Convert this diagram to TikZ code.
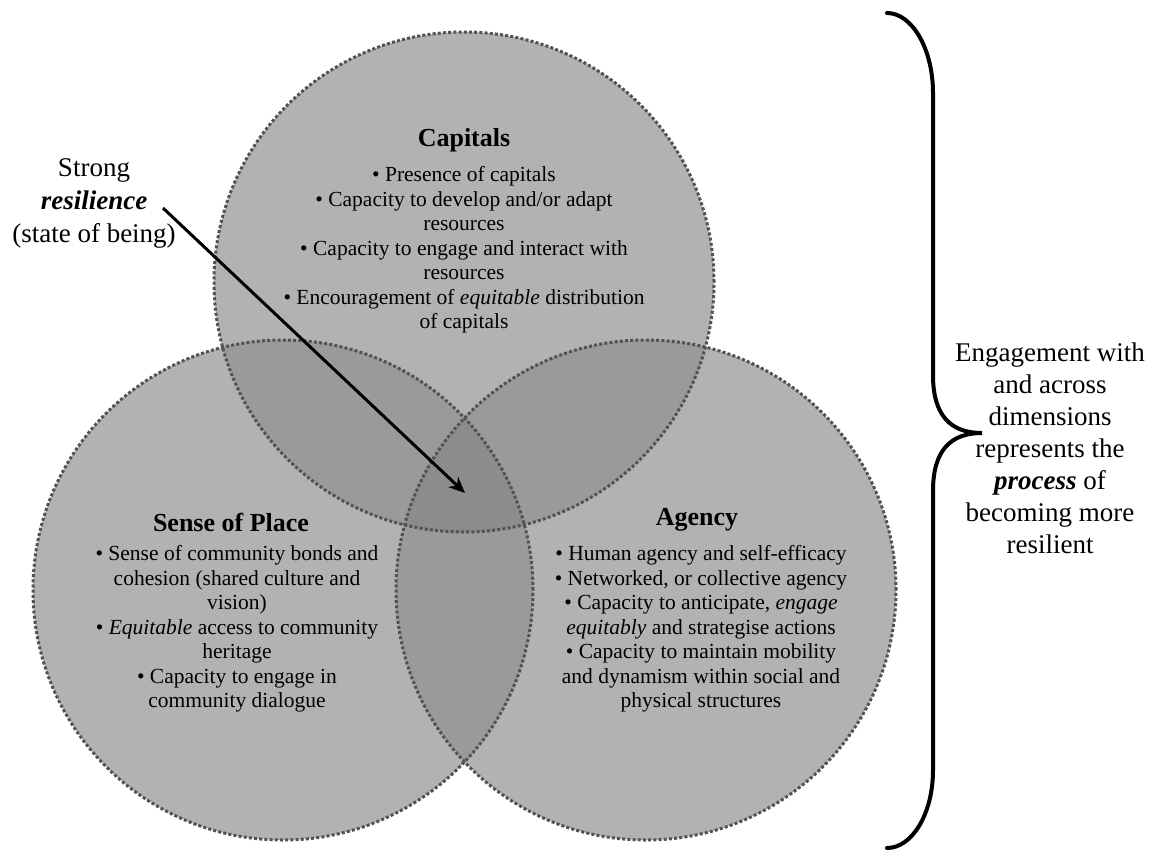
\documentclass[tikz,border=0pt]{standalone}
\usepackage{fontspec}
\setmainfont{Liberation Serif}
\usetikzlibrary{arrows.meta}
\definecolor{onefill}{HTML}{B2B2B2}
\definecolor{twofill}{HTML}{9A9A9A}
\definecolor{threefill}{HTML}{8C8C8C}
\definecolor{rimgray}{HTML}{525252}
\begin{document}
\begin{tikzpicture}[x=1pt,y=-1pt,
  rim/.style={draw=rimgray, line width=3pt, dash pattern=on 3pt off 2.2pt},
  heading/.style={font=\fontsize{26}{30}\selectfont\bfseries, inner sep=0pt},
  bullets/.style={font=\fontsize{21.5}{24.5}\selectfont, align=center, inner sep=0pt},
  sidenote/.style={font=\fontsize{27}{33}\selectfont, align=center, inner sep=0pt},
  pointer/.style={line width=3pt, -{Stealth[length=16pt,width=14pt,inset=5pt]}},
  bracket/.style={line width=4pt, line cap=round}
]
\useasboundingbox (0,0) rectangle (1151,851);
\fill[white] (0,0) rectangle (1151,851);

% centres of the three dimensions
\coordinate (cap) at (464,282);
\coordinate (sop) at (283,590);
\coordinate (agc) at (646,590);

% single-dimension areas
\fill[onefill] (cap) circle (250pt);
\fill[onefill] (sop) circle (250pt);
\fill[onefill] (agc) circle (250pt);

% pairwise overlaps
\begin{scope}
  \clip (cap) circle (250pt);
  \fill[twofill] (sop) circle (250pt);
  \fill[twofill] (agc) circle (250pt);
\end{scope}
\begin{scope}
  \clip (sop) circle (250pt);
  \fill[twofill] (agc) circle (250pt);
\end{scope}

% centre where all three meet
\begin{scope}
  \clip (cap) circle (250pt);
  \clip (sop) circle (250pt);
  \fill[threefill] (agc) circle (250pt);
\end{scope}

% dotted rims
\draw[rim] (cap) circle (250pt);
\draw[rim] (sop) circle (250pt);
\draw[rim] (agc) circle (250pt);

% Capitals
\node[heading] (capT) at (464,140) {Capitals};
\node[bullets] (capB) at (464,250) {• Presence of capitals\\
• Capacity to develop and/or adapt\\
resources\\
• Capacity to engage and interact with\\
resources\\
• Encouragement of \textit{equitable} distribution\\
of capitals};

% Sense of Place
\node[heading] (sopT) at (231,522) {Sense of Place};
\node[bullets] (sopB) at (237,629) {• Sense of community bonds and\\
cohesion (shared culture and\\
vision)\\
• \textit{Equitable} access to community\\
heritage\\
• Capacity to engage in\\
community dialogue};

% Agency
\node[heading] (agcT) at (697,520) {Agency};
\node[bullets] (agcB) at (701,629) {• Human agency and self-efficacy\\
• Networked, or collective agency\\
• Capacity to anticipate, \textit{engage}\\
\textit{equitably} and strategise actions\\
• Capacity to maintain mobility\\
and dynamism within social and\\
physical structures};

% state of being
\node[sidenote] (strong) at (94,203) {Strong\\ \textbf{\textit{resilience}}\\ (state of being)};
\coordinate (tail) at (163,208);
\coordinate (tip) at (465,493);
\draw[pointer] (tail) -- (tip);

% process
\node[sidenote, font=\fontsize{27}{32}\selectfont] (process) at (1050,448)
  {Engagement with\\ and across\\ dimensions\\ represents the\\ \textbf{\textit{process}} of\\ becoming more\\ resilient};

% curly brace
\draw[bracket] (887,13) .. controls (912,13) and (933,49) .. (933,93)
  -- (933,375) .. controls (933,415) and (950,433) .. (982,433)
  .. controls (950,433) and (933,451) .. (933,491)
  -- (933,770) .. controls (933,814) and (912,848) .. (887,848);
\end{tikzpicture}
\end{document}
